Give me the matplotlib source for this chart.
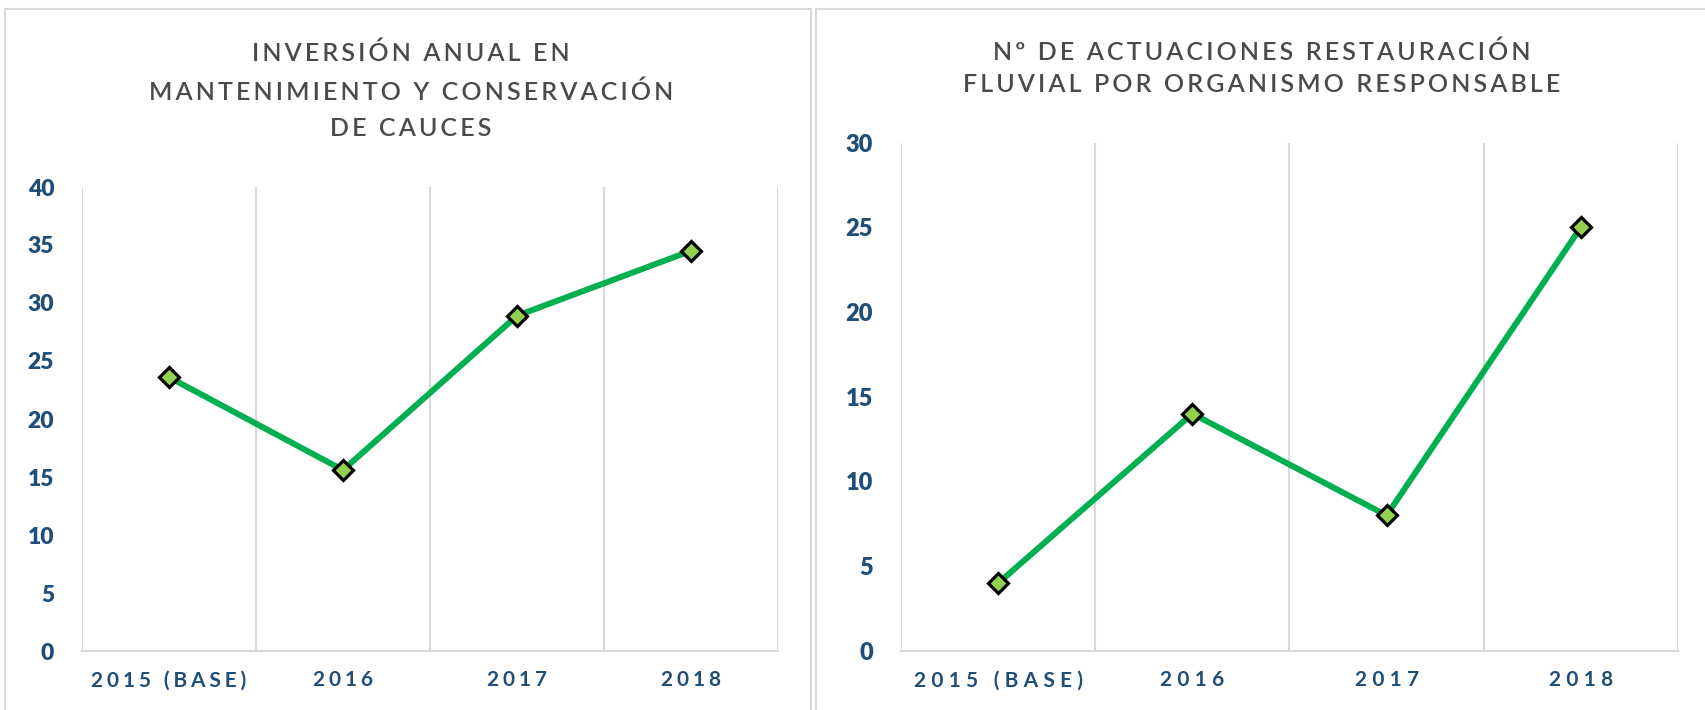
import matplotlib
matplotlib.use("Agg")
import matplotlib.pyplot as plt
from matplotlib import font_manager
from matplotlib.patches import Rectangle
import numpy as np

# === DATA ===
years = ["2015 (BASE)", "2016", "2017", "2018"]
inversion = [23.6, 15.6, 28.9, 34.5]
actuaciones = [4, 14, 8, 25]

title_left = ["INVERSIÓN ANUAL EN", "MANTENIMIENTO Y CONSERVACIÓN", "DE CAUCES"]
title_right = ["Nº DE ACTUACIONES RESTAURACIÓN", "FLUVIAL POR ORGANISMO RESPONSABLE"]

# === STYLE ===
# use Lato if a bold face is installed, otherwise Open Sans
has_lato_bold = any(f.name == "Lato" and str(f.weight) in ("bold", "700")
                    for f in font_manager.fontManager.ttflist)
BOLD_FAM = ["Lato" if has_lato_bold else "Open Sans", "DejaVu Sans"]
FAM = ["Lato", "DejaVu Sans"]
BLUE = "#1F4E79"
GREY_TXT = "#4A4A4A"
GRID = "#D9D9D9"
LINE = "#00B050"
MARK = "#92D050"


def spaced(s, sep="\u2009"):
    # fake Excel letter spacing
    return sep.join(s)


W, H = 1706, 710
fig = plt.figure(figsize=(W / 100, H / 100), dpi=100)


def px_rect(x0, y0, x1, y1):
    return Rectangle((x0 / W, 1 - y1 / H), (x1 - x0) / W, (y1 - y0) / H,
                     transform=fig.transFigure, fill=False, edgecolor=GRID, lw=1.5)

fig.patches.append(px_rect(5, 9, 811, 730))
fig.patches.append(px_rect(816, 9, 1730, 730))


def draw_panel(rect, values, ymax, cx, title_lines, title_y, fs, ytick_fs, xsep):
    ax = fig.add_axes(rect)
    x = np.arange(len(years))
    ax.plot(x, values, color=LINE, lw=4.3, marker="D", markersize=10.5,
            markerfacecolor=MARK, markeredgecolor="black", markeredgewidth=2.3,
            solid_capstyle="round", zorder=3)
    ax.set_xlim(-0.5, len(years) - 0.5)
    ax.set_ylim(0, ymax)
    ax.set_yticks(np.arange(0, ymax + 1, 5))
    ax.set_xticks(x)
    ax.set_xticklabels([spaced(t, xsep) for t in years])
    ax.set_xticks(np.arange(-0.5, len(years)), minor=True)
    ax.grid(True, which="minor", axis="x", color=GRID, lw=1.5)
    ax.tick_params(which="both", length=0)
    ax.tick_params(axis="x", pad=14)
    ax.tick_params(axis="y", pad=20)
    for sp in ["top", "left", "right"]:
        ax.spines[sp].set_visible(False)
    ax.spines["bottom"].set_color(GRID)
    ax.spines["bottom"].set_linewidth(1.5)
    for lab in ax.get_yticklabels():
        lab.set_fontfamily(BOLD_FAM); lab.set_fontweight("heavy")
        lab.set_fontsize(ytick_fs); lab.set_color(BLUE)
    for lab in ax.get_xticklabels():
        lab.set_fontfamily(BOLD_FAM); lab.set_fontweight("bold")
        lab.set_fontsize(15); lab.set_color(BLUE)
    for i, line in enumerate(title_lines):
        fig.text(cx / W, 1 - title_y[i] / H, spaced(line), ha="center", va="center",
                 fontsize=fs, fontfamily=FAM, color=GREY_TXT, fontweight="semibold")
    return ax


draw_panel([82 / W, 1 - 651 / H, (778 - 82) / W, (651 - 187) / H],
           inversion, 40, 411, title_left, [53, 92, 129], 18, 16.5, "\u2009\u200a")
draw_panel([901 / W, 1 - 651 / H, (1678 - 901) / W, (651 - 142.5) / H],
           actuaciones, 30, 1262, title_right, [52, 85], 18, 17, "\u2009\u2009")

plt.savefig("out.png", dpi=100)
